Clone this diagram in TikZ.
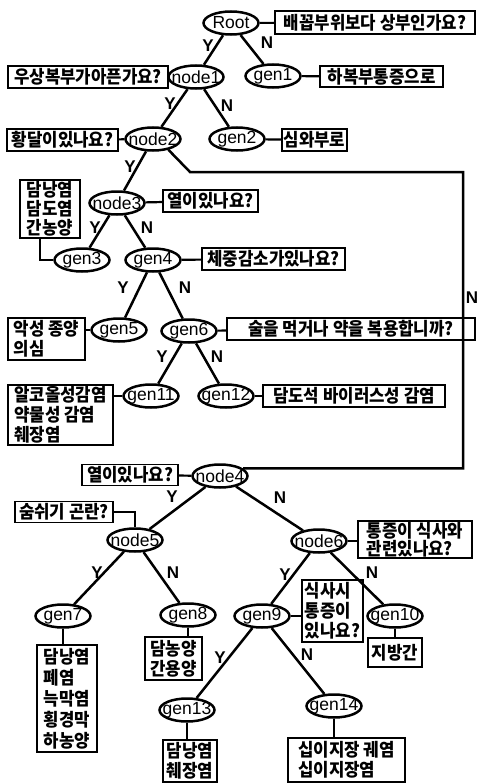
\documentclass[tikz,border=0pt]{standalone}
\usepackage{fontspec}
\newfontfamily\krf[FakeStretch=0.93]{Noto Sans CJK KR}
\newfontfamily\latf{Liberation Sans}
\usetikzlibrary{shapes.geometric}
\newcommand\elltext[1]{\makebox[20pt]{#1}}
\begin{document}
\begin{tikzpicture}[x=1pt,y=-1pt,
 ell/.style={ellipse,draw,line width=2.5pt,minimum width=55pt,minimum height=23pt,inner sep=0pt,font=\latf\fontsize{17.5}{17.5}\selectfont},
 qbox/.style={draw,line width=1.3pt,inner sep=0.5pt,font=\krf\bfseries\fontsize{18}{20}\selectfont,align=left},
 edge/.style={line width=2.5pt},
 link/.style={line width=2.2pt},
 yn/.style={font=\latf\bfseries\fontsize{17}{17}\selectfont,inner sep=0pt}
]
\useasboundingbox[fill=white] (0,0) rectangle (477,784);

% ellipses
\node[ell] (root) at (231,23) {\elltext{Root}};
\node[ell] (node1) at (196,77) {\elltext{node1}};
\node[ell] (gen1) at (273,76) {\elltext{gen1}};
\node[ell] (node2) at (153,139) {\elltext{node2}};
\node[ell] (gen2) at (237,139) {\elltext{gen2}};
\node[ell] (node3) at (117,203) {\elltext{node3}};
\node[ell] (gen3) at (82,260) {\elltext{gen3}};
\node[ell] (gen4) at (153,260) {\elltext{gen4}};
\node[ell] (gen5) at (119,330) {\elltext{gen5}};
\node[ell] (gen6) at (189,331) {\elltext{gen6}};
\node[ell] (gen11) at (151,396) {\elltext{gen11}};
\node[ell] (gen12) at (226,396) {\elltext{gen12}};
\node[ell] (node4) at (220,476) {\elltext{node4}};
\node[ell] (node5) at (135,540) {\elltext{node5}};
\node[ell] (node6) at (319,541) {\elltext{node6}};
\node[ell] (gen7) at (63,616) {\elltext{gen7}};
\node[ell] (gen8) at (188,615) {\elltext{gen8}};
\node[ell] (gen9) at (262,616) {\elltext{gen9}};
\node[ell] (gen10) at (395,616) {\elltext{gen10}};
\node[ell] (gen13) at (187,710) {\elltext{gen13}};
\node[ell] (gen14) at (334,706) {\elltext{gen14}};

% boxes
\node[qbox,minimum width=200pt,minimum height=23pt] (q0) at (375,22.5) {배꼽부위보다 상부인가요?};
\node[qbox,minimum width=160pt,minimum height=22pt] (q1) at (88,77) {우상복부가아픈가요?};
\node[qbox,minimum width=123pt,minimum height=21pt] (a1) at (381.5,76.5) {하복부통증으로};
\node[qbox,minimum width=111pt,minimum height=22pt] (q2) at (62.5,140) {황달이있나요?};
\node[qbox,minimum width=65pt,minimum height=22pt] (a2) at (314.5,140) {심와부로};
\node[qbox,minimum width=95pt,minimum height=22pt] (q3) at (210.5,201) {열이있나요?};
\node[qbox,minimum width=60pt,minimum height=58pt,font=\krf\bfseries\fontsize{18}{19}\selectfont] (a3) at (50,209) {담낭염\\담도염\\간농양};
\node[qbox,minimum width=143pt,minimum height=22pt] (q4) at (273.5,259) {체중감소가있나요?};
\node[qbox,minimum width=77pt,minimum height=42pt] (a5) at (46.5,339) {악성 종양\\의심};
\node[qbox,minimum width=248pt,minimum height=22pt] (q6) at (351,329) {술을 먹거나 약을 복용합니까?};
\node[qbox,minimum width=105pt,minimum height=60pt] (a11) at (60.5,415) {알코올성감염\\약물성 감염\\췌장염};
\node[qbox,minimum width=182pt,minimum height=22pt] (a12) at (354,396) {담도석 바이러스성 감염};
\node[qbox,minimum width=96pt,minimum height=21pt] (q7) at (130,475) {열이있나요?};
\node[qbox,minimum width=98pt,minimum height=21pt] (q8) at (64,512) {숨쉬기 곤란?};
\node[qbox,minimum width=114pt,minimum height=37pt,font=\krf\bfseries\fontsize{18}{18}\selectfont] (q9) at (415,539.5) {통증이 식사와\\관련있나요?};
\node[qbox,minimum width=60pt,minimum height=107pt,font=\krf\bfseries\fontsize{18}{21}\selectfont] (a7) at (67,698.5) {담낭염\\폐염\\늑막염\\횡경막\\하농양};
\node[qbox,minimum width=57pt,minimum height=43pt] (a8) at (173.5,658.5) {담농양\\간용양};
\node[qbox,minimum width=61pt,minimum height=62pt] (q10) at (332.5,611) {식사시\\통증이\\있나요?};
\node[qbox,minimum width=54pt,minimum height=29pt] (a10) at (395,652.5) {지방간};
\node[qbox,minimum width=54pt,minimum height=42pt] (a13) at (190,761) {담낭염\\췌장염};
\node[qbox,minimum width=117pt,minimum height=44pt] (a14) at (346.5,760) {십이지장 궤염\\십이지장염};

% box links
\draw[link] (root) -- (q0);
\draw[link] (q1.east) -- (node1.west);
\draw[link] (gen1) -- (a1);
\draw[link] (q2) -- (node2);
\draw[link] (gen2) -- (a2);
\draw[link] (node3) -- (q3);
\coordinate (k3) at (40,238);
\draw[link] (gen3.west) -| (k3);
\draw[link] (gen4) -- (q4);
\draw[link] (a5.east |- gen5) -- (gen5);
\draw[link] (gen6) -- (q6);
\draw[link] (a11.east |- gen11) -- (gen11);
\draw[link] (gen12) -- (a12);
\draw[link] (q7) -- (node4);
\draw[link] (q8.east) -| (node5.north);
\draw[link] (node6) -- (q9.west |- node6);
\draw[link] (gen7) -- (gen7 |- a7.north);
\draw[link] (gen8) -- (gen8 |- a8.north);
\draw[link] (gen9) -- (q10.west |- gen9);
\draw[link] (gen10) -- (gen10 |- a10.north);
\draw[link] (gen13) -- (gen13 |- a13.north);
\draw[link] (gen14) -- (gen14 |- a14.north);

% tree edges
\draw[edge] (root) -- (node1);
\draw[edge] (root) -- (gen1);
\draw[edge] (node1) -- (node2);
\draw[edge] (node1) -- (gen2);
\draw[edge] (node2) -- (node3);
\coordinate (c1) at (190,172);
\coordinate (c2) at (463,172);
\draw[edge] (node2.-35) -- (c1) -- (c2) |- (node4.18);
\draw[edge] (node3) -- (gen3);
\draw[edge] (node3) -- (gen4);
\draw[edge] (gen4) -- (gen5);
\draw[edge] (gen4) -- (gen6);
\draw[edge] (gen6) -- (gen11);
\draw[edge] (gen6) -- (gen12);
\draw[edge] (node4) -- (node5);
\draw[edge] (node4) -- (node6);
\draw[edge] (node5) -- (gen7);
\draw[edge] (node5) -- (gen8);
\draw[edge] (node6) -- (gen9);
\draw[edge] (node6) -- (gen10);
\draw[edge] (gen9) -- (gen13);
\draw[edge] (gen9) -- (gen14);

% Y/N labels
\node[yn] (l1) at (208,46) {Y};
\node[yn] (l2) at (267,43) {N};
\node[yn] (l3) at (170,104) {Y};
\node[yn] (l4) at (227,106) {N};
\node[yn] (l5) at (130,167) {Y};
\node[yn] (l6) at (472,298) {N};
\node[yn] (l7) at (95,228) {Y};
\node[yn] (l8) at (147,228) {N};
\node[yn] (l9) at (123,288) {Y};
\node[yn] (l10) at (185,288) {N};
\node[yn] (l11) at (162,357) {Y};
\node[yn] (l12) at (217,357) {N};
\node[yn] (l13) at (172,497) {Y};
\node[yn] (l14) at (280,498) {N};
\node[yn] (l15) at (97,573) {Y};
\node[yn] (l16) at (173,573) {N};
\node[yn] (l17) at (285,575) {Y};
\node[yn] (l18) at (372,573) {N};
\node[yn] (l19) at (220,658) {Y};
\node[yn] (l20) at (307,655) {N};
\end{tikzpicture}
\end{document}
